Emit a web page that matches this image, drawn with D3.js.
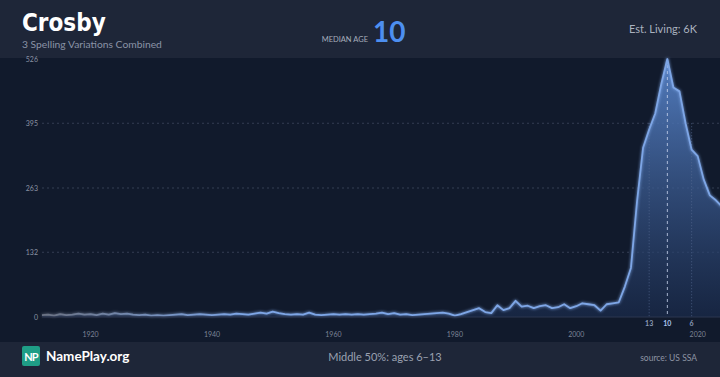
<!DOCTYPE html>
<html>
<head>
<meta charset="utf-8">
<script src="https://cdn.jsdelivr.net/npm/d3@7"></script>
<style>
  html, body { margin: 0; padding: 0; background: #111a2c; }
  svg { display: block; font-family: Lato, "Open Sans", sans-serif; }
</style>
</head>
<body>
<svg id="chart" width="720" height="377"></svg>
<script>
// yearly counts, 1912..2024
const years = d3.range(1912, 2025);
const counts = [
  4, 5, 3, 6, 4, 5, 7, 5, 6, 4,          // 1912-1921
  7, 5, 8, 6, 7, 5, 4, 5, 3, 4,          // 1922-1931
  3, 4, 5, 6, 4, 5, 6, 5, 4, 5,          // 1932-1941
  6, 5, 7, 6, 5, 7, 9, 7, 11, 8,         // 1942-1951
  6, 5, 6, 5, 9, 5, 4, 5, 6, 5,          // 1952-1961
  6, 5, 6, 5, 6, 7, 9, 6, 8, 5,          // 1962-1971
  6, 4, 5, 6, 7, 8, 9, 7, 3, 6,          // 1972-1981
  10, 14, 18, 10, 8, 24, 14, 18, 33, 21, // 1982-1991
  23, 18, 22, 24, 18, 20, 26, 18, 22, 28,// 1992-2001
  26, 24, 13, 26, 28, 30, 62, 100, 235, 345, // 2002-2011
  382, 415, 475, 526, 468, 460, 395, 341, 328, 280, // 2012-2021
  248, 238, 225                          // 2022-2024
];
const yTicks = [0, 132, 263, 395, 526];
const xTicks = [1920, 1940, 1960, 1980, 2000, 2020];
const medianMarks = [
  { age: 13, year: 2012, main: false },
  { age: 10, year: 2015, main: true },
  { age: 6, year: 2019, main: false }
];

const W = 720, H = 377;
const svg = d3.select('#chart');
const plot = { left: 42, right: 722, top: 59, bottom: 317 };

const x = d3.scaleLinear().domain([1912, 2024]).range([plot.left, plot.right]);
const y = d3.scaleLinear().domain([0, 526]).range([plot.bottom, plot.top]);

const defs = svg.append('defs');
const fillGrad = defs.append('linearGradient').attr('id', 'fillGrad')
  .attr('gradientUnits', 'userSpaceOnUse')
  .attr('x1', 0).attr('y1', plot.top).attr('x2', 0).attr('y2', plot.bottom);
fillGrad.append('stop').attr('offset', '0%').attr('stop-color', '#5a88d0').attr('stop-opacity', 0.9);
fillGrad.append('stop').attr('offset', '100%').attr('stop-color', '#1b2d50').attr('stop-opacity', 0.6);

const lineGrad = defs.append('linearGradient').attr('id', 'lineGrad')
  .attr('gradientUnits', 'userSpaceOnUse')
  .attr('x1', plot.left).attr('y1', 0).attr('x2', x(1945)).attr('y2', 0);
lineGrad.append('stop').attr('offset', '0%').attr('stop-color', '#6b7283');
lineGrad.append('stop').attr('offset', '100%').attr('stop-color', '#7ea6e6');

const glow = defs.append('filter').attr('id', 'glow')
  .attr('x', '-10%').attr('y', '-10%').attr('width', '120%').attr('height', '120%');
glow.append('feGaussianBlur').attr('stdDeviation', 1.6).attr('result', 'b');
const merge = glow.append('feMerge');
merge.append('feMergeNode').attr('in', 'b');
merge.append('feMergeNode').attr('in', 'SourceGraphic');

// backgrounds
svg.append('rect').attr('width', W).attr('height', H).attr('fill', '#111a2c');
svg.append('rect').attr('width', W).attr('height', 58).attr('fill', '#1e2638');
svg.append('rect').attr('y', 342).attr('width', W).attr('height', 35).attr('fill', '#1e2638');

// grid
svg.append('g').selectAll('line').data(yTicks.filter(d => d > 0 && d < 526)).join('line')
  .attr('x1', plot.left).attr('x2', W)
  .attr('y1', d => y(d)).attr('y2', d => y(d))
  .attr('stroke', '#353e53').attr('stroke-width', 1).attr('stroke-dasharray', '2,3');

// y axis labels
svg.append('g').selectAll('text').data(yTicks).join('text')
  .attr('x', 38).attr('y', d => y(d) + 2.5)
  .attr('text-anchor', 'end').attr('fill', '#8a92a3')
  .attr('font-size', 7).text(d => d);

// x axis labels
svg.append('g').selectAll('text').data(xTicks).join('text')
  .attr('x', d => x(d)).attr('y', 337)
  .attr('text-anchor', 'middle').attr('fill', '#7c8496')
  .attr('font-size', 7).text(d => d);

const series = years.map((yr, i) => ({ year: yr, value: counts[i] }));

const area = d3.area().x(d => x(d.year)).y0(y(0)).y1(d => y(d.value));
const line = d3.line().x(d => x(d.year)).y(d => y(d.value));

svg.append('path').datum(series).attr('d', area).attr('fill', 'url(#fillGrad)');

// median markers
svg.append('g').selectAll('line').data(medianMarks).join('line')
  .attr('x1', d => x(d.year)).attr('x2', d => x(d.year))
  .attr('y1', d => d.main ? y(526) : y(395))
  .attr('y2', plot.bottom)
  .attr('stroke', d => d.main ? '#c9d6ee' : '#5a6d95')
  .attr('stroke-opacity', d => d.main ? 0.8 : 0.7)
  .attr('stroke-width', 1)
  .attr('stroke-dasharray', d => d.main ? '3,3' : '1,2');

svg.append('path').datum(series).attr('d', line)
  .attr('fill', 'none').attr('stroke', 'url(#lineGrad)')
  .attr('stroke-width', 1.8).attr('stroke-linejoin', 'round').attr('filter', 'url(#glow)');

svg.append('line').attr('x1', plot.left).attr('x2', W)
  .attr('y1', plot.bottom).attr('y2', plot.bottom)
  .attr('stroke', '#2c3650').attr('stroke-width', 1);

svg.append('g').selectAll('text').data(medianMarks).join('text')
  .attr('x', d => x(d.year)).attr('y', 326)
  .attr('text-anchor', 'middle')
  .attr('fill', d => d.main ? '#a9c3ee' : '#8c9ab8')
  .attr('font-size', 7).attr('font-weight', 'bold').text(d => d.age);

// header
svg.append('text').attr('x', 22).attr('y', 31).attr('fill', '#ffffff')
  .attr('font-family', '"Liberation Sans Narrow", "DejaVu Sans Condensed", Lato, sans-serif')
  .attr('font-size', 24).attr('font-weight', 'bold').text('Crosby');
svg.append('text').attr('x', 22).attr('y', 48).attr('fill', '#8a93a6')
  .attr('font-size', 10.3).text('3 Spelling Variations Combined');
svg.append('text').attr('x', 368).attr('y', 42).attr('text-anchor', 'end')
  .attr('fill', '#a7aebc').attr('font-size', 7.5).text('MEDIAN AGE');
svg.append('text').attr('x', 373).attr('y', 42).attr('fill', '#4d8ff0')
  .attr('font-size', 28).attr('font-weight', 'bold').text('10');
svg.append('text').attr('x', 697).attr('y', 33).attr('text-anchor', 'end')
  .attr('fill', '#aab1bf').attr('font-size', 11).text('Est. Living: 6K');

// footer
svg.append('rect').attr('x', 22).attr('y', 346).attr('width', 18).attr('height', 20)
  .attr('rx', 2).attr('fill', '#1f9e86');
svg.append('text').attr('x', 31).attr('y', 360.5).attr('text-anchor', 'middle')
  .attr('fill', '#ffffff').attr('font-size', 11).attr('font-weight', 'bold')
  .attr('letter-spacing', -1).text('NP');
svg.append('text').attr('x', 46).attr('y', 361).attr('fill', '#ffffff')
  .attr('font-size', 13.5).attr('font-weight', 'bold').text('NamePlay.org');
svg.append('text').attr('x', 385).attr('y', 361).attr('text-anchor', 'middle')
  .attr('fill', '#9aa1b0').attr('font-size', 11).text('Middle 50%: ages 6\u201313');
svg.append('text').attr('x', 697).attr('y', 361).attr('text-anchor', 'end')
  .attr('fill', '#8e95a4').attr('font-size', 8.5).text('source: US SSA');
</script>
</body>
</html>
